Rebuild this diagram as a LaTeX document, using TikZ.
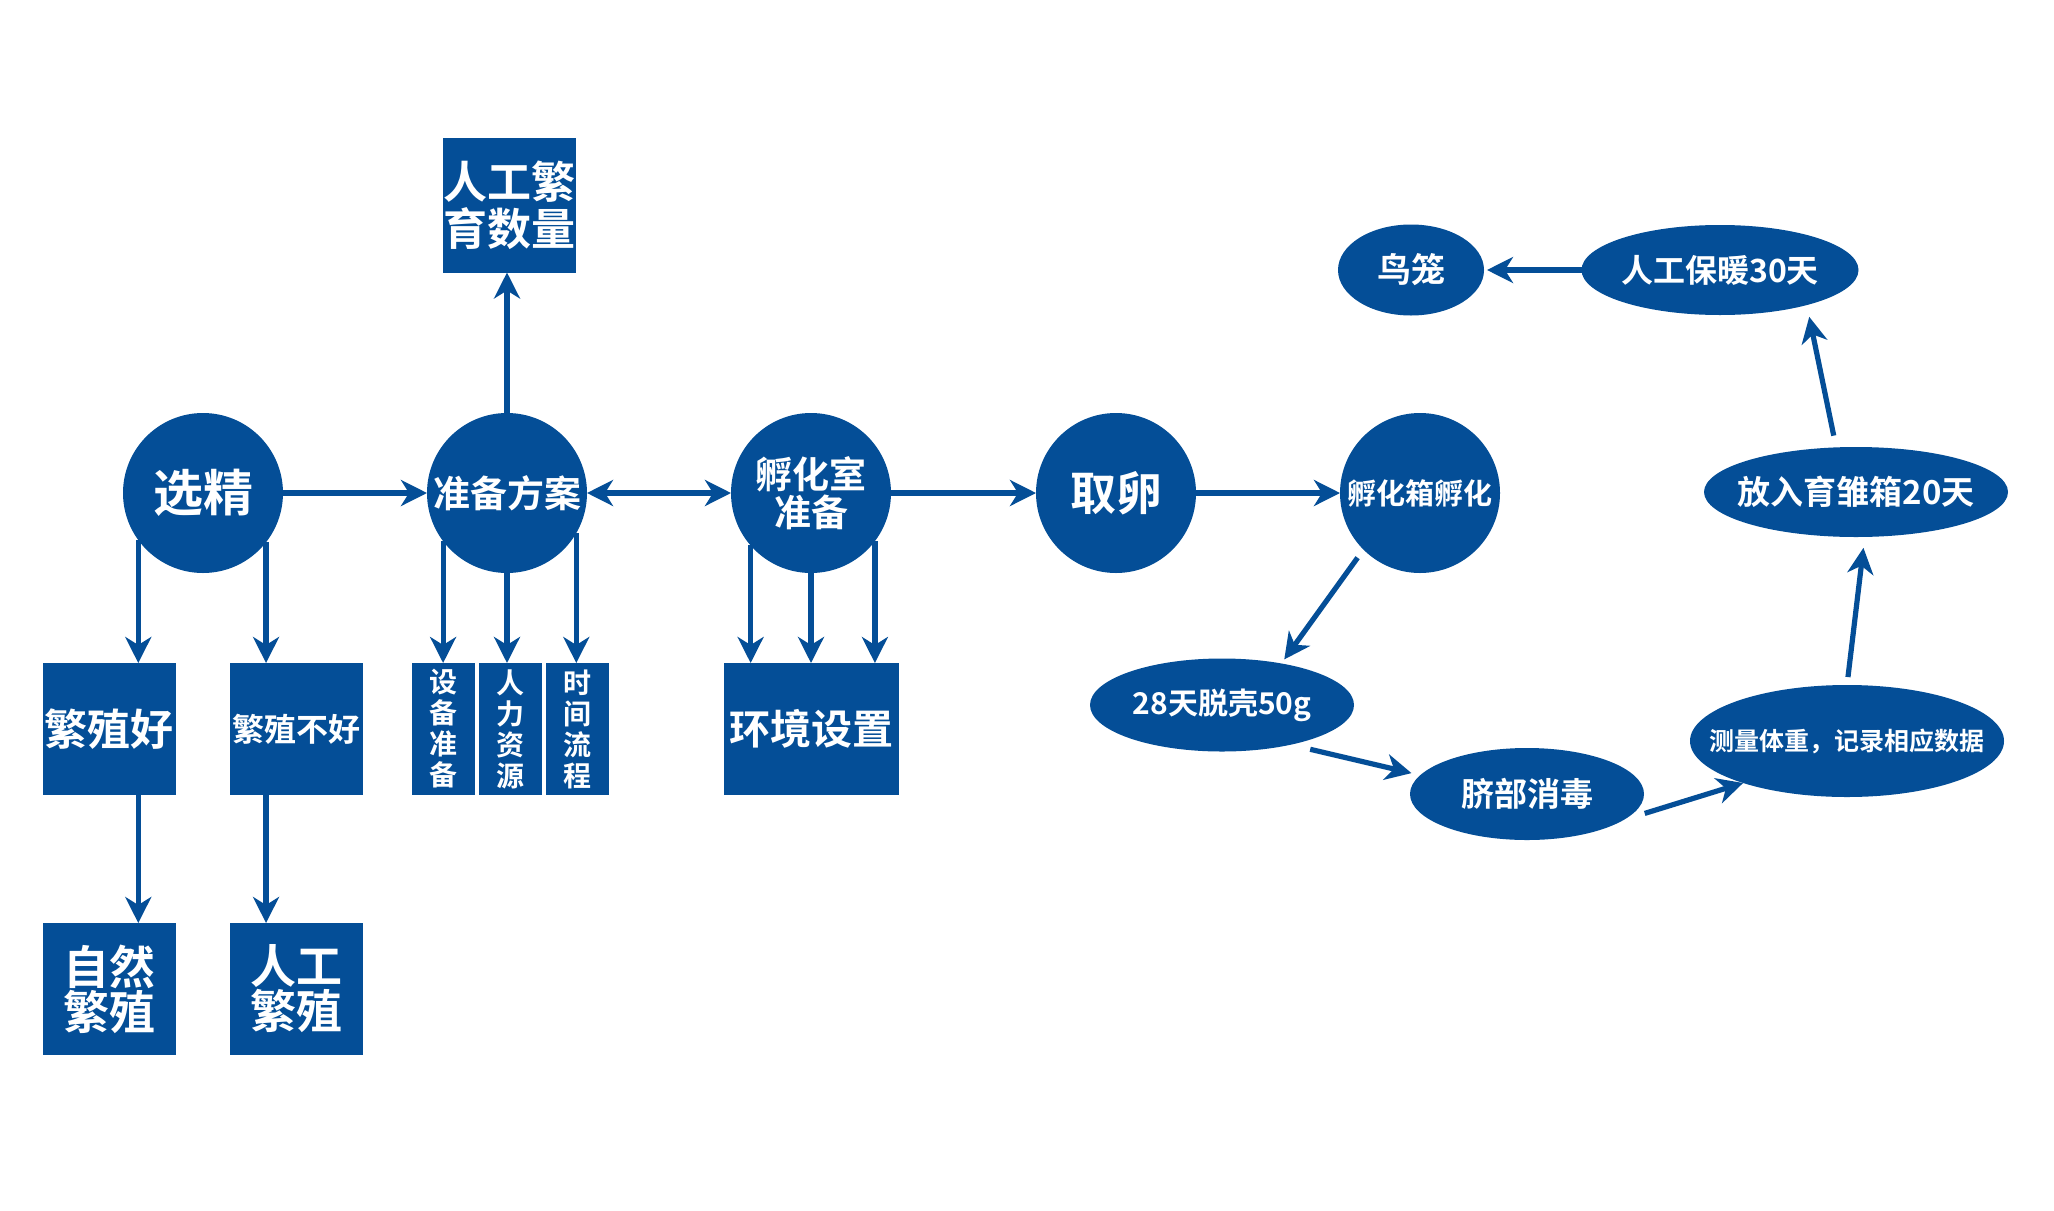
\documentclass[tikz,border=0pt]{standalone}
\usepackage{fontspec}
\setmainfont{Noto Sans CJK SC}[BoldFont={Noto Sans CJK SC Bold}]
\usetikzlibrary{arrows.meta,shapes.geometric,calc}
\definecolor{nb}{HTML}{044E97}
\newcommand{\fz}[2]{\fontsize{#1}{#2}\selectfont\bfseries}
\begin{document}
\begin{tikzpicture}[x=0.5pt,y=-0.5pt,
  every node/.style={text=white,inner sep=0pt,outer sep=0pt,align=center},
  circ/.style={circle,fill=nb,minimum size=80pt},
  sq/.style={rectangle,fill=nb,minimum width=66.5pt,minimum height=66pt},
  vbox/.style={rectangle,fill=nb,minimum width=31.5pt,minimum height=66pt,font=\fz{14pt}{15.5pt}},
  oval/.style={ellipse,fill=nb},
  arr/.style={draw=nb,line width=2.6pt,-{Stealth[length=13pt,width=13pt,inset=4pt]}},
  arrb/.style={draw=nb,line width=2.6pt,{Stealth[length=13pt,width=13pt,inset=4pt]}-{Stealth[length=13pt,width=13pt,inset=4pt]}}
]
\fill[white] (0,0) rectangle (2054,1210);
\useasboundingbox (0,0) rectangle (2054,1210);

% main row
\node[circ,font=\fz{25pt}{27pt}] (sel) at (203,493) {选精};
\node[circ,font=\fz{18.5pt}{20pt}] (prep) at (507,493) {准备方案};
\node[circ,font=\fz{18.5pt}{19.3pt}] (room) at (811,493) {孵化室\\准备};
\node[circ,font=\fz{23pt}{25pt}] (egg) at (1116,493) {取卵};
\node[circ,font=\fz{14.5pt}{16pt}] (hatch) at (1420,493) {孵化箱孵化};

% boxes
\node[sq,minimum height=67.5pt,font=\fz{22pt}{23.5pt}] (qty) at (509.5,205) {人工繁\\育数量};
\node[sq,font=\fz{21.5pt}{23pt}] (good) at (109,729) {繁殖好};
\node[sq,font=\fz{16pt}{18pt}] (bad) at (296,729) {繁殖不好};
\node[sq,font=\fz{23pt}{22.5pt}] (nat) at (109,989) {自然\\繁殖};
\node[sq,font=\fz{23pt}{22.5pt}] (art) at (296,989) {人工\\繁殖};
\node[vbox] (dev) at (443,729) {设\\备\\准\\备};
\node[vbox] (hr) at (510,729) {人\\力\\资\\源};
\node[vbox] (time) at (577,729) {时\\间\\流\\程};
\node[sq,minimum width=87.5pt,font=\fz{20.5pt}{22pt}] (env) at (811.5,729) {环境设置};

% cycle ovals
\node[oval,minimum width=132pt,minimum height=46.5pt] (shell) at (1222,705) {};
\node[font=\fz{15pt}{16pt}] (shellT) at (shell) {28天脱壳50g};
\node[oval,minimum width=117pt,minimum height=46pt] (navel) at (1527,794) {};
\node[font=\fz{16.5pt}{18pt}] (navelT) at (navel) {脐部消毒};
\node[oval,minimum width=157pt,minimum height=56pt] (meas) at (1847,741) {};
\node[font=\fz{12.5pt}{14pt}] (measT) at (meas) {测量体重，记录相应数据};
\node[oval,minimum width=152pt,minimum height=45pt] (put) at (1856,492) {};
\node[font=\fz{16.5pt}{18pt}] (putT) at (put) {放入育雏箱20天};
\node[oval,minimum width=138.5pt,minimum height=45pt] (warm) at (1720,270) {};
\node[font=\fz{16pt}{18pt}] (warmT) at (warm) {人工保暖30天};
\node[oval,minimum width=73pt,minimum height=45.5pt] (cage) at (1411,270) {};
\node[font=\fz{17pt}{18pt}] (cageT) at (cage) {鸟笼};

% main row arrows
\draw[arr] (sel) -- (prep);
\draw[arrb] (prep) -- (room);
\draw[arr] (room) -- (egg);
\draw[arr] (egg) -- (hatch);

\draw[arr] (sel.216) -- (sel.216 |- good.north);
\draw[arr] (sel.322) -- (sel.322 |- bad.north);
\draw[arr] (sel.216 |- good.south) -- (sel.216 |- nat.north);
\draw[arr] (sel.322 |- bad.south) -- (sel.322 |- art.north);

\draw[arr] (prep.north) -- (prep.north |- qty.south);
\draw[arr] (prep.217) -- (prep.217 |- dev.north);
\draw[arr] (prep.south) -- (prep.south |- hr.north);
\draw[arr] (prep.330) -- (prep.330 |- time.north);

\draw[arr] (room.221) -- (room.221 |- env.north);
\draw[arr] (room.south) -- (room.south |- env.north);
\draw[arr] (room.323) -- (room.323 |- env.north);

% cycle arrows
\draw[arr,shorten <=5pt,shorten >=2.5pt] (hatch.225) -- (shell.35);
\draw[arr,shorten <=10pt,shorten >=4.5pt] (shell.330) -- (navel.170);
\draw[arr,shorten <=11pt] (navel.345) -- (meas.202);
\draw[arr,shorten <=4pt,shorten >=5.5pt] (meas.north) -- (put.281);
\draw[arr,shorten <=6pt,shorten >=6pt] (put.114) -- (warm.338);
\draw[arr,shorten >=1.5pt] (warm) -- (cage);
\end{tikzpicture}
\end{document}
